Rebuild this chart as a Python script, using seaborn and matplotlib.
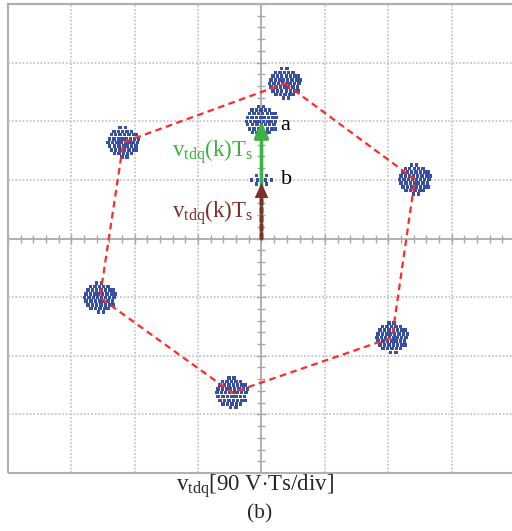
import numpy as np
import pandas as pd
import matplotlib
matplotlib.use("Agg")
import matplotlib.pyplot as plt
from matplotlib.patches import Rectangle
import seaborn as sns

# ---- data (units: divisions) ----
hex_x = [0.37, 2.42, 2.06, -0.465, -2.55, -2.18]
hex_y = [2.645, 1.007, -1.69, -2.63, -1.007, 1.64]
a_xy = [0.0, 2.0]
b_xy = [0.0, 1.0]

spread_dx = [-0.05, 0.03,
             -0.15, -0.08, -0.01, 0.06, 0.13,
             -0.19, -0.12, -0.05, 0.02, 0.09, 0.16, 0.21,
             -0.22, -0.15, -0.08, -0.02, 0.04, 0.11, 0.18, 0.24,
             -0.24, -0.17, -0.10, -0.04, 0.03, 0.09, 0.15, 0.22,
             -0.22, -0.14, -0.07, 0.0, 0.06, 0.13, 0.20,
             -0.19, -0.12, -0.05, 0.02, 0.09, 0.16, 0.21,
             -0.14, -0.07, 0.0, 0.07, 0.13,
             -0.02, 0.06]
spread_dy = [0.25, 0.25,
             0.19, 0.19, 0.19, 0.19, 0.19,
             0.13, 0.13, 0.13, 0.13, 0.13, 0.13, 0.13,
             0.06, 0.06, 0.06, 0.06, 0.06, 0.06, 0.06, 0.06,
             0.0, 0.0, 0.0, 0.0, 0.0, 0.0, 0.0, 0.0,
             -0.06, -0.06, -0.06, -0.06, -0.06, -0.06, -0.06,
             -0.13, -0.13, -0.13, -0.13, -0.13, -0.13, -0.13,
             -0.19, -0.19, -0.19, -0.19, -0.19,
             -0.25, -0.25]
b_dx = [-0.08, 0.0, 0.08, -0.16, -0.06, 0.06, 0.16, -0.08, 0.0, 0.08]
b_dy = [0.07, 0.09, 0.07, 0.0, 0.0, 0.0, 0.0, -0.07, -0.09, -0.07]

xlabel_text = r"$\mathregular{v_{tdq}}$[90 V$\cdot$Ts/div]"
caption = "(b)"
vec_label = r"$\mathregular{v_{tdq}(k)T_s}$"

# ---- build point table ----
centres_x = hex_x + [a_xy[0]]
centres_y = hex_y + [a_xy[1]]
px, py = [], []
for cx, cy in zip(centres_x, centres_y):
    px += [cx + d for d in spread_dx]
    py += [cy + d for d in spread_dy]
px += [b_xy[0] + d for d in b_dx]
py += [b_xy[1] + d for d in b_dy]
pts = pd.DataFrame({"x": px, "y": py})
hexdf = pd.DataFrame({"x": hex_x + hex_x[:1], "y": hex_y + hex_y[:1]})

sns.set_theme(style="white")
plt.rcParams["font.family"] = ["Liberation Serif", "DejaVu Serif"]
plt.rcParams["mathtext.fontset"] = "custom"
plt.rcParams["mathtext.rm"] = "Liberation Serif"
plt.rcParams["mathtext.it"] = "Liberation Serif:italic"

W, H = 512, 531
fig = plt.figure(figsize=(W / 100, H / 100), dpi=100)
ax = fig.add_axes([8 / W, (H - 473) / H, 507 / W, 469 / H])
ax.set_xlim(-4, 4)
ax.set_ylim(-4, 4)

grid_c = "#c8c8c8"
ax.set_xticks(np.arange(-4, 5, 1))
ax.set_yticks(np.arange(-4, 5, 1))
ax.set_xticks(np.arange(-4, 4.01, 0.2), minor=True)
ax.set_yticks(np.arange(-4, 4.01, 0.2), minor=True)
ax.grid(True, which="major", color=grid_c, linestyle=(0, (1, 1)), linewidth=1.3)
ax.set_xticklabels([])
ax.set_yticklabels([])

for s in ["left", "bottom"]:
    ax.spines[s].set_position("zero")
    ax.spines[s].set_color("#a8a8a8")
    ax.spines[s].set_linewidth(1.2)
for s in ["top", "right"]:
    ax.spines[s].set_color("#b0b0b0")
    ax.spines[s].set_linewidth(1.5)
ax.add_patch(Rectangle((0, 0), 1, 1, transform=ax.transAxes, fill=False,
                       edgecolor="#b0b0b0", linewidth=1.5, zorder=5, clip_on=False))
ax.tick_params(which="both", bottom=True, left=True, top=False, right=False,
               direction="inout", color="#a8a8a8", width=1.0)
ax.tick_params(which="major", length=7)
ax.tick_params(which="minor", length=6)

# samples
sns.scatterplot(data=pts, x="x", y="y", ax=ax, marker="s", s=6,
                color="#2d469c", edgecolor="none", linewidth=0, zorder=4, alpha=0.95)
# hexagon (drawn over the clusters)
sns.lineplot(data=hexdf, x="x", y="y", sort=False, estimator=None, ax=ax,
             color="#ff2a2a", linewidth=1.6, linestyle=(0, (3, 2)), zorder=5)

# vectors
green = "#3fb043"
brown = "#7f2f2a"
ax.annotate("", xy=(a_xy[0], a_xy[1]), xytext=(0, 0),
            arrowprops=dict(arrowstyle="-|>,head_length=0.8,head_width=0.35",
                            color=green, lw=2.6, shrinkA=0, shrinkB=0), zorder=6)
# brown dashed shaft
ax.annotate("", xy=(b_xy[0], b_xy[1] - 0.2), xytext=(0, 0),
            arrowprops=dict(arrowstyle="-", color=brown, lw=2.8,
                            linestyle=(0, (1.2, 1.0)), shrinkA=0, shrinkB=0), zorder=7)
# brown solid head
ax.annotate("", xy=(b_xy[0], b_xy[1] - 0.05), xytext=(b_xy[0], b_xy[1] - 0.35),
            arrowprops=dict(arrowstyle="-|>,head_length=0.9,head_width=0.4",
                            color=brown, lw=0.1, shrinkA=0, shrinkB=0), zorder=7)

ax.text(-0.78, 1.48, vec_label, color=green, fontsize=16.5, ha="center", va="center")
ax.text(-0.78, 0.44, vec_label, color=brown, fontsize=16.5, ha="center", va="center")
ax.text(0.30, 1.93, "a", color="black", fontsize=16, ha="left", va="center")
ax.text(0.30, 1.0, "b", color="black", fontsize=16, ha="left", va="center")

ax.set_xlabel("")
ax.set_ylabel("")
fig.text(255 / W, 1 - 486 / H, xlabel_text, fontsize=16.5, ha="center", va="center")
fig.text(260 / W, 1 - 514 / H, caption, fontsize=15.5, ha="center", va="center")

fig.savefig("out.png", dpi=100)
